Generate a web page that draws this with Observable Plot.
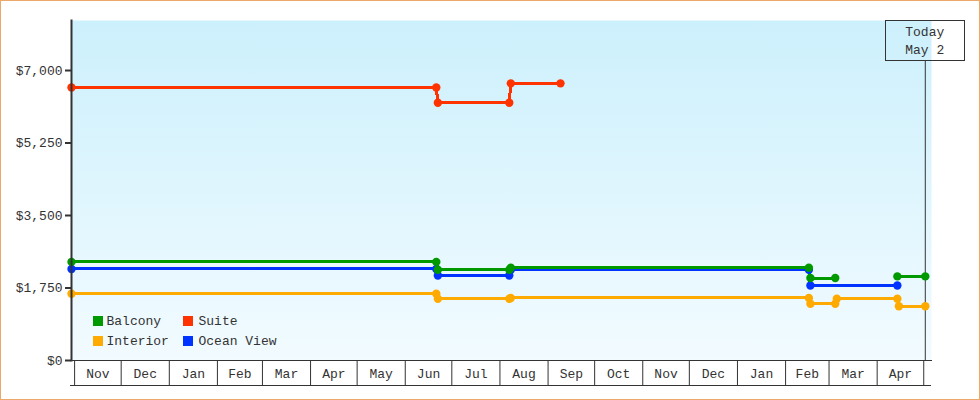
<!DOCTYPE html>
<html><head><meta charset="utf-8">
<script src="https://cdn.jsdelivr.net/npm/d3@7"></script>
<script src="https://cdn.jsdelivr.net/npm/@observablehq/plot@0.6"></script>
<style>
html,body{margin:0;padding:0;background:#fff;}
#wrap{position:relative;width:980px;height:400px;overflow:hidden;}
#border{position:absolute;left:0;top:0;width:980px;height:400px;box-sizing:border-box;border:1px solid #eba866;pointer-events:none;}
#today{position:absolute;width:80px;height:41px;box-sizing:border-box;border:1px solid #333;font:13px "Liberation Mono",monospace;color:#333;text-align:center;line-height:18px;padding-top:2.5px;white-space:pre;}
svg [aria-label="line"]{shape-rendering:crispEdges;}
</style></head><body><div id="wrap"></div>
<script>
// ---- data ----
const monthStarts = ["2023-11-01","2023-12-01","2024-01-01","2024-02-01","2024-03-01","2024-04-01","2024-05-01","2024-06-01","2024-07-01","2024-08-01","2024-09-01","2024-10-01","2024-11-01","2024-12-01","2025-01-01","2025-02-01","2025-03-01","2025-04-01","2025-05-01"];
const monthLabels = ["Nov","Dec","Jan","Feb","Mar","Apr","May","Jun","Jul","Aug","Sep","Oct","Nov","Dec","Jan","Feb","Mar","Apr"];
const yTicks = [0, 1750, 3500, 5250, 7000];
const xDomain = ["2023-10-30", "2025-05-06"];
const yMax = 8207;
const todayDate = "2025-05-02";
const todayLabel = "Today\nMay 2";

const seriesNames = ["Balcony", "Suite", "Interior", "Ocean View"];
const seriesColors = ["#009900", "#ff3300", "#ffaa00", "#0033ff"];

const balconyDates = ["2023-10-30","2024-06-21","2024-06-22","2024-08-07","2024-08-08","2025-02-16","2025-02-17","2025-03-05","2025-03-25","2025-04-14","2025-05-02"];
const balconyPrices = [2380,2380,2190,2190,2240,2240,1990,1990,null,2030,2030];

const suiteDates = ["2023-10-30","2024-06-21","2024-06-22","2024-08-07","2024-08-08","2024-09-09"];
const suitePrices = [6590,6590,6220,6220,6690,6690];

const interiorDates = ["2023-10-30","2024-06-21","2024-06-22","2024-08-07","2024-08-08","2025-02-16","2025-02-17","2025-03-05","2025-03-06","2025-04-14","2025-04-15","2025-05-02"];
const interiorPrices = [1610,1610,1490,1490,1510,1510,1370,1370,1490,1490,1310,1310];

const oceanDates = ["2023-10-30","2024-06-21","2024-06-22","2024-08-07","2024-08-08","2025-02-16","2025-02-17","2025-04-14"];
const oceanPrices = [2210,2210,2050,2050,2190,2190,1810,1810];

// ---- build ----
const series = [
  {name: "Ocean View", dates: oceanDates, prices: oceanPrices},
  {name: "Interior", dates: interiorDates, prices: interiorPrices},
  {name: "Suite", dates: suiteDates, prices: suitePrices},
  {name: "Balcony", dates: balconyDates, prices: balconyPrices}
];
const rows = series.flatMap(s => s.dates.map((d, i) => ({series: s.name, date: new Date(d), price: s.prices[i]})));
const starts = monthStarts.map(d => new Date(d));
const mids = monthLabels.map((_, i) => new Date((+starts[i] + +starts[i + 1]) / 2));
const today = new Date(todayDate);

const W = 980, H = 400, mL = 71, mR = 49, mT = 20, mB = 40;
const font = '"Liberation Mono", monospace';

const chart = Plot.plot({
  width: W, height: H,
  marginLeft: mL, marginRight: mR, marginTop: mT, marginBottom: mB,
  style: {fontFamily: font, fontSize: "13px", color: "#333", background: "transparent", overflow: "visible"},
  x: {type: "utc", domain: xDomain.map(d => new Date(d))},
  y: {domain: [0, yMax]},
  color: {domain: seriesNames, range: seriesColors},
  marks: [
    Plot.frame({fill: "url(#bgGrad)", stroke: "none"}),
    Plot.axisY(yTicks, {tickSize: 6, tickPadding: 3, tickFormat: d3.format("$,"), strokeWidth: 2, fontSize: 13, label: null}),
    Plot.axisX(starts, {tickSize: 25, tickFormat: () => "", strokeWidth: 1, label: null}),
    Plot.text(mids, {x: d => d, text: (d, i) => monthLabels[i], frameAnchor: "bottom", lineAnchor: "middle", dy: 13, fontSize: 13, fill: "#333"}),
    Plot.frame({anchor: "bottom", stroke: "#333", strokeWidth: 1}),
    Plot.ruleX([today], {stroke: "#333", strokeWidth: 1, insetTop: 40}),
    Plot.line(rows, {x: "date", y: "price", z: "series", stroke: "series", strokeWidth: 3, curve: "linear"}),
    Plot.dot(rows, {x: "date", y: "price", fill: "series", r: 4.2, stroke: "none"}),
    Plot.frame({anchor: "left", stroke: "#333", strokeWidth: 2})
  ]
});

const svg = d3.select(chart);
const defs = svg.insert("svg:defs", ":first-child");
const grad = defs.append("svg:linearGradient").attr("id", "bgGrad").attr("x1", 0).attr("y1", 0).attr("x2", 0).attr("y2", 1);
grad.append("svg:stop").attr("offset", 0).attr("stop-color", "#ccf0fc");
grad.append("svg:stop").attr("offset", 1).attr("stop-color", "#f2fbff");

// bottom border of the month boxes
svg.append("svg:line")
  .attr("x1", mL - 1).attr("x2", W - mR)
  .attr("y1", H - mB + 25.5).attr("y2", H - mB + 25.5)
  .attr("stroke", "#333").attr("stroke-width", 1);

// legend
const leg = svg.append("svg:g").attr("font-family", font).attr("font-size", 13).attr("fill", "#333").attr("text-anchor", "start");
seriesNames.forEach((name, i) => {
  const col = i % 2, row = Math.floor(i / 2);
  const x0 = mL + 22 + col * 90;
  const y0 = H - mB - 44 + row * 20;
  leg.append("svg:rect").attr("x", x0).attr("y", y0).attr("width", 10).attr("height", 10).attr("fill", seriesColors[i]);
  leg.append("svg:text").attr("x", x0 + 13.5 + col * 2).attr("y", y0 + 9).attr("text-anchor", "start").text(name);
});

const wrap = document.getElementById("wrap");
wrap.appendChild(chart);

// today box
const tx = chart.scale("x").apply(today);
const box = document.createElement("div");
box.id = "today";
box.style.left = (tx - 40) + "px";
box.style.top = mT + "px";
box.textContent = todayLabel;
wrap.appendChild(box);

const border = document.createElement("div");
border.id = "border";
wrap.appendChild(border);
</script>
</body></html>
